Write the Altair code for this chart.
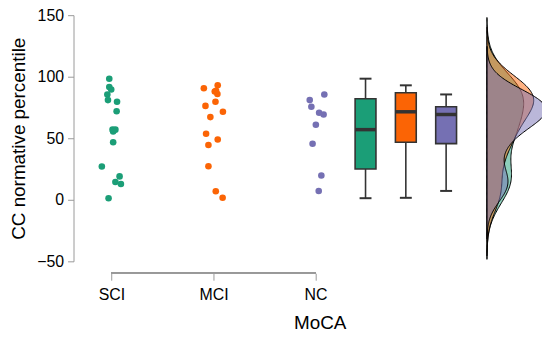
import altair as alt
import numpy as np
import pandas as pd

groups = ["SCI", "MCI", "NC"]
sci_values = [98.4, 91.7, 89.6, 85.6, 81.0, 79.7, 72.0, 57.0, 57.0, 55.5, 46.7, 27.0, 19.0, 14.5, 12.8, 1.3]
sci_jitter = [-0.022, -0.022, -0.003, -0.041, -0.035, 0.054, 0.050, 0.010, 0.038, 0.016, 0.016, -0.095, 0.079, 0.038, 0.092, -0.029]
mci_values = [90.6, 93.0, 88.0, 88.5, 85.9, 79.7, 76.3, 71.5, 67.2, 53.6, 49.0, 44.5, 27.2, 7.0, 1.6]
mci_jitter = [-0.095, 0.041, 0.012, 0.025, 0.038, 0.019, -0.079, 0.092, -0.031, -0.073, 0.041, -0.050, -0.050, 0.022, 0.089]
nc_values = [85.6, 81.0, 75.6, 70.7, 69.3, 61.0, 45.6, 19.8, 7.2]
nc_jitter = [0.086, -0.057, -0.041, 0.035, 0.079, 0.003, -0.029, 0.057, 0.031]
colors = ["#1b9e77", "#fb6405", "#7570b3"]
y_ticks = [-50, 0, 50, 100, 150]

# layout constants
BOX_POS = {"SCI": 3.49, "MCI": 3.885, "NC": 4.28}
DENS_BASE = 4.68
DENS_K = 33.0
W, H = 472, 248
FONT = "Liberation Sans"

rows = []
for i, (g, vals, jit) in enumerate(zip(groups, [sci_values, mci_values, nc_values],
                                        [sci_jitter, mci_jitter, nc_jitter])):
    for v, j in zip(vals, jit):
        rows.append({"group": g, "idx": i + 1, "value": v, "px": i + 1 + j,
                     "bx": BOX_POS[g]})
df = pd.DataFrame(rows)

xscale = alt.Scale(domain=[0.676, 0.676 + W / 105.0], nice=False, zero=False)
yscale = alt.Scale(domain=[-50, 150], nice=False, zero=False)
cscale = alt.Scale(domain=groups, range=colors)

xaxis = alt.Axis(values=[1, 2, 3], labelExpr="['','SCI','MCI','NC'][round(datum.value)]",
                 domain=False, grid=False, tickColor="#999999", tickSize=7, offset=12,
                 labelFontSize=16, labelPadding=6, labelColor="black", labelFont=FONT,
                 title="MoCA", titleFontSize=19, titleFont=FONT, titleFontWeight="normal",
                 titleColor="black", titleX=248, titleY=56, titleBaseline="alphabetic",
                 titleAlign="center")
yaxis = alt.Axis(values=y_ticks, grid=False, domainColor="#999999", tickColor="#999999",
                 tickSize=6, labelFontSize=16, labelPadding=4, labelColor="black",
                 labelFont=FONT, title="CC normative percentile", titleFontSize=19,
                 titleFont=FONT, titleFontWeight="normal", titleColor="black",
                 titlePadding=8)

base = alt.Chart(df)

points = base.mark_circle(size=44, opacity=1).encode(
    x=alt.X("px:Q", scale=xscale, axis=xaxis),
    y=alt.Y("value:Q", scale=yscale, axis=yaxis),
    color=alt.Color("group:N", scale=cscale, legend=None),
)

agg = base.transform_aggregate(
    mn="min(value)", mx="max(value)", q1="q1(value)", q3="q3(value)", med="median(value)",
    groupby=["group", "bx"],
)

whisk = agg.mark_rule(color="#333333", strokeWidth=1.6).encode(
    x=alt.X("bx:Q", scale=xscale), y=alt.Y("mn:Q", scale=yscale), y2="mx:Q")
cap_lo = agg.mark_rule(color="#333333", strokeWidth=2, xOffset=-6, x2Offset=6).encode(
    x=alt.X("bx:Q", scale=xscale), x2="bx:Q", y=alt.Y("mn:Q", scale=yscale))
cap_hi = agg.mark_rule(color="#333333", strokeWidth=2, xOffset=-6, x2Offset=6).encode(
    x=alt.X("bx:Q", scale=xscale), x2="bx:Q", y=alt.Y("mx:Q", scale=yscale))
box = agg.mark_bar(size=21, stroke="#333333", strokeWidth=1.6, opacity=1).encode(
    x=alt.X("bx:Q", scale=xscale), y=alt.Y("q1:Q", scale=yscale), y2="q3:Q",
    color=alt.Color("group:N", scale=cscale, legend=None))
med = agg.mark_rule(color="#333333", strokeWidth=3.5, xOffset=-10.5, x2Offset=10.5).encode(
    x=alt.X("bx:Q", scale=xscale), x2="bx:Q", y=alt.Y("med:Q", scale=yscale))

dens_layers = []
for g, vals in zip(groups, [sci_values, mci_values, nc_values]):
    a = np.array(vals)
    iqr = np.percentile(a, 75) - np.percentile(a, 25)
    bw = 0.9 * min(a.std(ddof=1), iqr / 1.34) * len(a) ** -0.2
    ext = [float(a.min() - 3 * bw), float(a.max() + 3 * bw)]
    layer = base.transform_filter(alt.datum.group == g).transform_density(
        "value", groupby=["group"], bandwidth=float(bw), extent=ext, steps=200,
        as_=["value", "density"],
    ).transform_calculate(
        dx=f"{DENS_BASE} + datum.density * {DENS_K}"
    ).mark_area(orient="horizontal", fillOpacity=0.5, stroke="black", strokeWidth=1).encode(
        x=alt.X("dx:Q", scale=xscale),
        x2=alt.datum(DENS_BASE),
        y=alt.Y("value:Q", scale=yscale),
        color=alt.Color("group:N", scale=cscale, legend=None),
    )
    dens_layers.append(layer)

xline = alt.Chart(df).mark_rule(color="#999999", strokeWidth=1).encode(
    x=alt.datum(1, scale=xscale), x2=alt.datum(3), y=alt.value(H + 12))

chart = alt.layer(points, *dens_layers, whisk, cap_lo, cap_hi, box, med, xline).properties(
    width=W, height=H,
    autosize=alt.AutoSizeParams(type="none"),
    padding={"left": 66, "top": 6, "right": 0, "bottom": 74},
).configure_view(stroke=None)

chart.save("out.html", embed_options={"renderer": "svg", "actions": False})
